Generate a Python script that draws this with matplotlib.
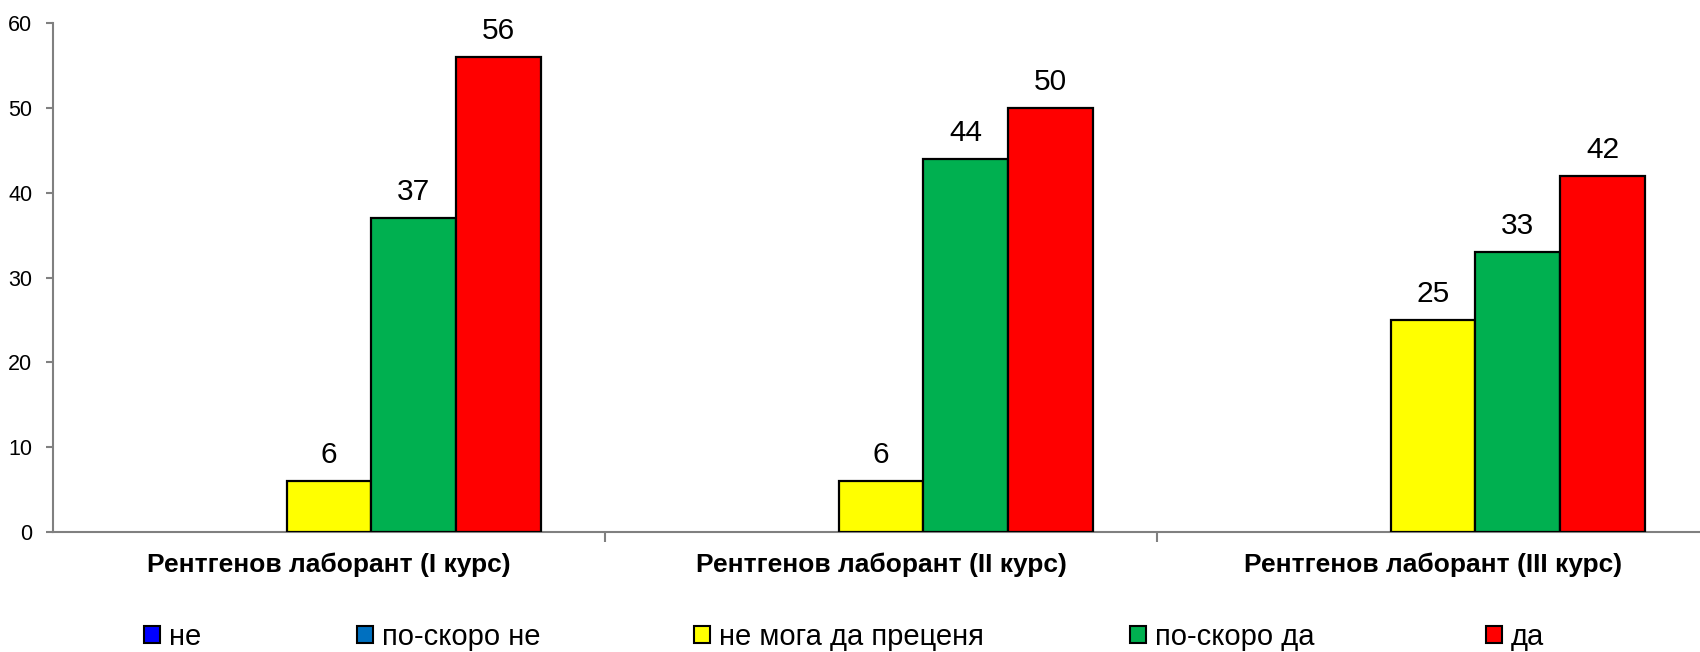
import numpy as np
import matplotlib
matplotlib.use("Agg")
import matplotlib.pyplot as plt
from matplotlib.patches import Patch

plt.rcParams['font.family'] = ['Liberation Sans', 'DejaVu Sans']

categories = ["Рентгенов лаборант (I курс)", "Рентгенов лаборант (II курс)", "Рентгенов лаборант (III курс)"]
series_names = ["не", "по-скоро не", "не мога да преценя", "по-скоро да", "да"]
series_colors = ["#0000FF", "#0070C0", "#FFFF00", "#00B050", "#FF0000"]
ne = [np.nan, np.nan, np.nan]
po_skoro_ne = [np.nan, np.nan, np.nan]
ne_moga = [6, 6, 25]
po_skoro_da = [37, 44, 33]
da = [56, 50, 42]
series_values = [ne, po_skoro_ne, ne_moga, po_skoro_da, da]
yticks = [0, 10, 20, 30, 40, 50, 60]

W, H = 1700, 652
fig = plt.figure(figsize=(W / 100, H / 100), dpi=100)
left, right = 53 / W, 1709 / W
bottom, top = 1 - 532 / H, 1 - 23 / H
ax = fig.add_axes([left, bottom, right - left, top - bottom])

x = np.arange(len(categories))
w = 1 / 6.5
n = len(series_names)
for i, (name, vals, col) in enumerate(zip(series_names, series_values, series_colors)):
    pos = x + (i - (n - 1) / 2) * w
    vals = np.array(vals, dtype=float)
    ax.bar(pos, vals, width=w, color=col, edgecolor='black', linewidth=1.6, label=name, zorder=3)
    for p, v in zip(pos, vals):
        if np.isfinite(v):
            ax.annotate(f"{v:.0f}", (p, v), xytext=(0, 13), textcoords='offset points',
                        ha='center', va='baseline', fontsize=21.5, color='black')

ax.set_xlim(-0.5, len(categories) - 0.5)
ax.set_ylim(0, 60)
ax.set_yticks(yticks)
ax.set_yticklabels([str(t) for t in yticks])
ax.tick_params(axis='y', length=5, width=1.5, color='#808080', pad=10, labelsize=15.5)

ax.set_xticks(np.arange(len(categories) - 1) + 0.5)
ax.set_xticklabels([])
ax.tick_params(axis='x', which='major', length=7, width=1.5, color='#808080', direction='out')
ax.set_xticks(x, minor=True)
ax.set_xticklabels(categories, minor=True, fontsize=19, fontweight='bold')
ax.tick_params(axis='x', which='minor', length=0, pad=15)

for s in ['top', 'right']:
    ax.spines[s].set_visible(False)
for s in ['left', 'bottom']:
    ax.spines[s].set_color('#808080')
    ax.spines[s].set_linewidth(1.5)

legend_x = [144, 357, 694, 1130, 1486]
for name, col, lx in zip(series_names, series_colors, legend_x):
    h = Patch(facecolor=col, edgecolor='black', linewidth=1.5)
    fig.legend(handles=[h], labels=[name], loc='center left',
               bbox_to_anchor=(lx / W, 1 - 637 / H), frameon=False,
               fontsize=21, handlelength=0.55, handleheight=0.55,
               handletextpad=0.3, borderpad=0, borderaxespad=0)

fig.savefig("out.png", dpi=100)
